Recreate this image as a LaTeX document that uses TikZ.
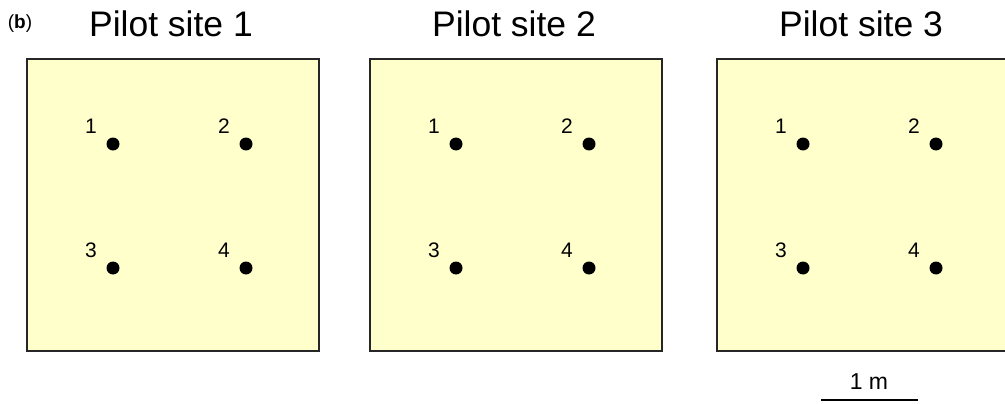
\documentclass[tikz,border=0pt]{standalone}
\usepackage{fontspec}
\setmainfont{Liberation Sans}
\usetikzlibrary{positioning}

\definecolor{plotyellow}{RGB}{255,255,204}

\begin{document}
\begin{tikzpicture}[
            x = 1pt, y = -1pt, % one unit per pixel, y runs down
            semithick % line style
        ]

        \tikzstyle{plot}=[
            draw = black!85,
            line width = 2pt,
            fill = plotyellow,
            minimum size = 292pt,
            inner sep = 0pt
        ]
        \tikzstyle{probe}=[circle, fill=black, minimum size=13pt, inner sep=0pt]
        \tikzstyle{num}=[font=\fontsize{21}{24}\selectfont, inner sep=0pt]
        \tikzstyle{title}=[font=\fontsize{35.5}{40}\selectfont, anchor=base]

        \clip (0,0) rectangle (1005,404);

        \node[font=\fontsize{19}{22}\selectfont] (tag) at (20,24) {(\textbf{b})};

        \foreach \s/\x in {1/173, 2/516, 3/863} {
            \node[plot] (site\s) at (\x,205) {};
            \node[title] (title\s) at (\x-2,37) {Pilot site \s};
            % measuring points
            \foreach \n/\dx/\y in {1/-60/144, 2/73/144, 3/-60/268, 4/73/268} {
                \node[probe] (probe\s-\n) at (\x+\dx,\y) {};
                \node[num, anchor=south east, above left=10pt and 16pt of probe\s-\n.center] {\n};
            }
        }

        % scale bar
        \coordinate (bar west) at (821,400);
        \coordinate (bar east) at (918,400);
        \draw[line width=2pt] (bar west) -- (bar east);
        \node[font=\fontsize{23}{26}\selectfont, inner sep=0pt, anchor=base] (bar label) at (869,389) {1 m};

  \end{tikzpicture}
\end{document}
